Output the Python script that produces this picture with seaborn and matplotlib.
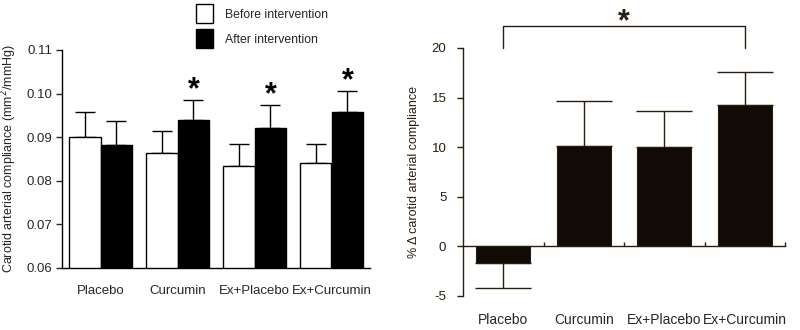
import matplotlib
matplotlib.use("Agg")
import matplotlib.pyplot as plt
import seaborn as sns
import pandas as pd
import numpy as np
from matplotlib.patches import Patch

groups = ["Placebo", "Curcumin", "Ex+Placebo", "Ex+Curcumin"]
before_mean = [0.0900, 0.0864, 0.0835, 0.0840]
before_err = [0.0057, 0.0050, 0.0050, 0.0045]
after_mean = [0.0883, 0.0939, 0.0920, 0.0957]
after_err = [0.0054, 0.0046, 0.0054, 0.0048]
phases = ["Before intervention", "After intervention"]
left_yticks = [0.06, 0.07, 0.08, 0.09, 0.10, 0.11]
left_sig = [False, True, True, True]

pct_mean = [-1.7, 10.1, 10.0, 14.3]
pct_err = [2.5, 4.6, 3.6, 3.3]
right_yticks = [-5, 0, 5, 10, 15, 20]

sns.set_style("white")
plt.rcParams['font.family'] = ['Liberation Sans', 'DejaVu Sans']
plt.rcParams['mathtext.fontset'] = 'custom'

BROWN = "#2a1c0e"
BARDARK = "#110b05"

fig = plt.figure(figsize=(8, 3.3), dpi=100)
ax1 = fig.add_axes([62/800, 1-268/330, (370-62)/800, (268-50)/330])
ax2 = fig.add_axes([463/800, 1-296/330, (785-463)/800, (296-48)/330])

# ---------- left panel ----------
df = pd.DataFrame({
    "group": groups * 2,
    "phase": [phases[0]] * 4 + [phases[1]] * 4,
    "value": before_mean + after_mean,
})
sns.barplot(data=df, x="group", y="value", hue="phase", order=groups,
            hue_order=phases, palette={phases[0]: "white", phases[1]: "black"},
            edgecolor="black", linewidth=1.0, width=0.83, gap=0,
            errorbar=None, legend=False, ax=ax1, zorder=2)
for cont, errs in zip(ax1.containers, [before_err, after_err]):
    xs = [p.get_x() + p.get_width() / 2 for p in cont]
    ys = [p.get_height() for p in cont]
    ax1.errorbar(xs, ys, yerr=[np.zeros(4), errs], fmt="none", ecolor="black",
                 elinewidth=1.0, capsize=7, capthick=1.0, zorder=1)
after_cont = ax1.containers[1]
for p, m, e, s in zip(after_cont, after_mean, after_err, left_sig):
    if s:
        ax1.annotate("*", (p.get_x() + p.get_width() / 2, m + e),
                     xytext=(0, 1.5), textcoords="offset points",
                     ha="center", va="baseline", fontsize=22,
                     fontweight="bold", color="black")
ax1.set_ylim(0.06, 0.11)
ax1.set_xlim(-0.5, 3.5)
ax1.set_yticks(left_yticks)
ax1.set_yticklabels([f"{t:.2f}" for t in left_yticks], fontsize=9.5)
ax1.set_xticks(range(4))
ax1.set_xticklabels(groups, fontsize=9.5)
ax1.tick_params(axis="x", length=0, pad=12)
ax1.tick_params(axis="y", length=4, width=1, direction="out", left=True, pad=3)
for s in ["top", "right"]:
    ax1.spines[s].set_visible(False)
for s in ["left", "bottom"]:
    ax1.spines[s].set_color("black")
    ax1.spines[s].set_linewidth(1.0)
ax1.set_xlabel("")
ax1.set_ylabel("Carotid arterial compliance (mm$^2$/mmHg)", fontsize=9, labelpad=5)

handles = [Patch(facecolor="white", edgecolor="black", linewidth=1.0),
           Patch(facecolor="black", edgecolor="black", linewidth=1.0)]
fig.legend(handles, phases, loc="upper left", bbox_to_anchor=(185/800, 1.02),
           frameon=False, fontsize=8.8, handlelength=1.35, handleheight=2.0,
           handletextpad=1.0, labelspacing=0.5)

# ---------- right panel ----------
sns.barplot(x=groups, y=pct_mean, color=BARDARK, saturation=1, width=0.67,
            errorbar=None, ax=ax2, zorder=2, edgecolor=BROWN, linewidth=0.8)
xs = [p.get_x() + p.get_width() / 2 for p in ax2.patches]
lower = [e if m < 0 else 0 for m, e in zip(pct_mean, pct_err)]
upper = [e if m >= 0 else 0 for m, e in zip(pct_mean, pct_err)]
ax2.errorbar(xs, pct_mean, yerr=[lower, upper], fmt="none", ecolor=BROWN,
             elinewidth=1.0, capsize=20, capthick=1.0, zorder=1)
ax2.set_ylim(-5, 20)
ax2.set_xlim(-0.5, 3.5)
ax2.set_yticks(right_yticks)
ax2.set_yticklabels([str(t) for t in right_yticks], fontsize=9.5, color=BROWN)
ax2.set_xticks(range(4))
ax2.set_xticklabels(groups, fontsize=9.5, color=BROWN)
ax2.set_xticks([0.5, 1.5, 2.5, 3.5], minor=True)
ax2.tick_params(axis="x", which="major", length=0, pad=48)
ax2.tick_params(axis="x", which="minor", length=3, width=1, direction="in",
                color=BROWN, bottom=True)
ax2.tick_params(axis="y", length=4, width=1, direction="out", left=True,
                color=BROWN, pad=8)
for s in ["top", "right"]:
    ax2.spines[s].set_visible(False)
ax2.spines["bottom"].set_position(("data", 0))
for s in ["left", "bottom"]:
    ax2.spines[s].set_color(BROWN)
    ax2.spines[s].set_linewidth(1.0)
ax2.set_xlabel("")
ax2.set_ylabel("% \u0394 carotid arterial compliance", fontsize=9, color=BROWN,
               labelpad=8)

# significance bracket
bx0, bx1 = xs[0], xs[3]
ax2.plot([bx0, bx0, bx1, bx1], [20, 22.2, 22.2, 20], color=BROWN, lw=1.0,
         clip_on=False)
ax2.text((bx0 + bx1) / 2, 21.8, "*", ha="center", va="baseline", fontsize=22,
         fontweight="bold", color=BROWN)

fig.savefig("out.png", dpi=100, facecolor="white")
